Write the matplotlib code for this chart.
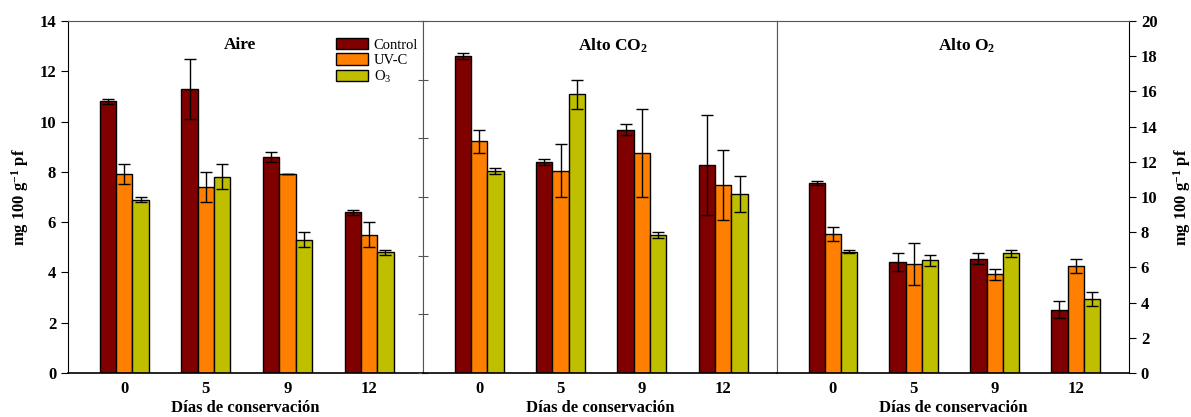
import numpy as np
import matplotlib
matplotlib.use("Agg")
import matplotlib.pyplot as plt

plt.rcParams["font.family"] = ["Liberation Serif", "DejaVu Serif"]
plt.rcParams["mathtext.default"] = "regular"

days = ["0", "5", "9", "12"]
treatments = ["Control", "UV-C", "O$_3$"]
colors = ["#800000", "#FF8000", "#BFBF00"]

# Aire (left scale, 0-14)
aire_mean = [[10.8, 11.3, 8.6, 6.4],
             [7.9, 7.4, 7.9, 5.5],
             [6.9, 7.8, 5.3, 4.8]]
aire_err = [[0.1, 1.2, 0.2, 0.1],
            [0.4, 0.6, 0.0, 0.5],
            [0.1, 0.5, 0.3, 0.1]]

# Alto CO2 (hidden scale, 0-12)
co2_mean = [[10.8, 7.2, 8.3, 7.1],
            [7.9, 6.9, 7.5, 6.4],
            [6.9, 9.5, 4.7, 6.1]]
co2_err = [[0.1, 0.1, 0.2, 1.7],
           [0.4, 0.9, 1.5, 1.2],
           [0.1, 0.5, 0.1, 0.6]]

# Alto O2 (right scale, 0-20)
o2_mean = [[10.8, 6.3, 6.5, 3.6],
           [7.9, 6.2, 5.6, 6.1],
           [6.9, 6.4, 6.8, 4.2]]
o2_err = [[0.1, 0.5, 0.3, 0.5],
          [0.4, 1.2, 0.3, 0.4],
          [0.1, 0.3, 0.2, 0.4]]

fig = plt.figure(figsize=(11.91, 4.17), dpi=100)
W, H = 1191, 417
bottom = 1 - 373 / H
height = (373 - 21) / H
lefts = [68, 423, 777]
widths = [355, 354, 352]
axes = [fig.add_axes([l / W, bottom, w / W, height]) for l, w in zip(lefts, widths)]

x = np.arange(len(days))
bw = 0.2
frame_col = "#555555"
tick_font = dict(fontsize=12, fontweight="bold")


def draw_panel(ax, means, errs, ymax):
    for i in range(3):
        ax.bar(x + (i - 1) * bw, means[i], bw, yerr=errs[i], color=colors[i],
               edgecolor="black", linewidth=1.0, label=treatments[i],
               error_kw=dict(ecolor="black", elinewidth=1.0, capsize=4, capthick=1.0))
    ax.set_xlim(-0.69, 3.66)
    ax.set_ylim(0, ymax)
    ax.set_xticks(x)
    ax.set_xticklabels(days, **tick_font)
    ax.tick_params(axis="x", length=0, pad=6)
    ax.set_xlabel("Días de conservación", fontsize=12, fontweight="bold", labelpad=2)
    for s in ["top", "right", "left"]:
        ax.spines[s].set_color(frame_col)
    ax.spines["bottom"].set_color("black")
    ax.spines["bottom"].set_linewidth(1.2)


ax1, ax2, ax3 = axes
draw_panel(ax1, aire_mean, aire_err, 14)
draw_panel(ax2, co2_mean, co2_err, 12)
draw_panel(ax3, o2_mean, o2_err, 20)

# left panel: left scale
ax1.set_yticks(range(0, 15, 2))
ax1.set_yticklabels([str(v) for v in range(0, 15, 2)], **tick_font)
ax1.spines["left"].set_color("black")
ax1.tick_params(axis="y", direction="out", length=5, color="black")
ax1.set_ylabel("mg 100 g$^{-1}$ pf", fontsize=12, fontweight="bold", labelpad=6)

# middle panel: unlabeled ticks
ax2.set_yticks(range(0, 13, 2))
ax2.set_yticklabels([])
ax2.tick_params(axis="y", direction="inout", length=7, color=frame_col)

# right panel: right scale
ax3.set_yticks(range(0, 21, 2))
ax3.yaxis.tick_right()
ax3.set_yticklabels([str(v) for v in range(0, 21, 2)], **tick_font)
ax3.yaxis.set_label_position("right")
ax3.spines["right"].set_color("black")
ax3.tick_params(axis="y", direction="out", length=5, color="black")
ax3.set_ylabel("mg 100 g$^{-1}$ pf", fontsize=12, fontweight="bold",
               rotation=90, labelpad=10)

ax1.text(0.485, 0.955, "Aire", transform=ax1.transAxes, ha="center", va="top",
         fontsize=12.5, fontweight="bold")
ax2.text(0.537, 0.955, "Alto CO$_2$", transform=ax2.transAxes, ha="center", va="top",
         fontsize=12.5, fontweight="bold")
ax3.text(0.54, 0.955, "Alto O$_2$", transform=ax3.transAxes, ha="center", va="top",
         fontsize=12.5, fontweight="bold")

ax1.legend(loc="upper left", bbox_to_anchor=(0.725, 0.98), frameon=False,
           fontsize=10.5, handlelength=2.2, handleheight=0.8,
           handletextpad=0.4, labelspacing=0.1, borderpad=0.2)

fig.savefig("out.png", dpi=100)
